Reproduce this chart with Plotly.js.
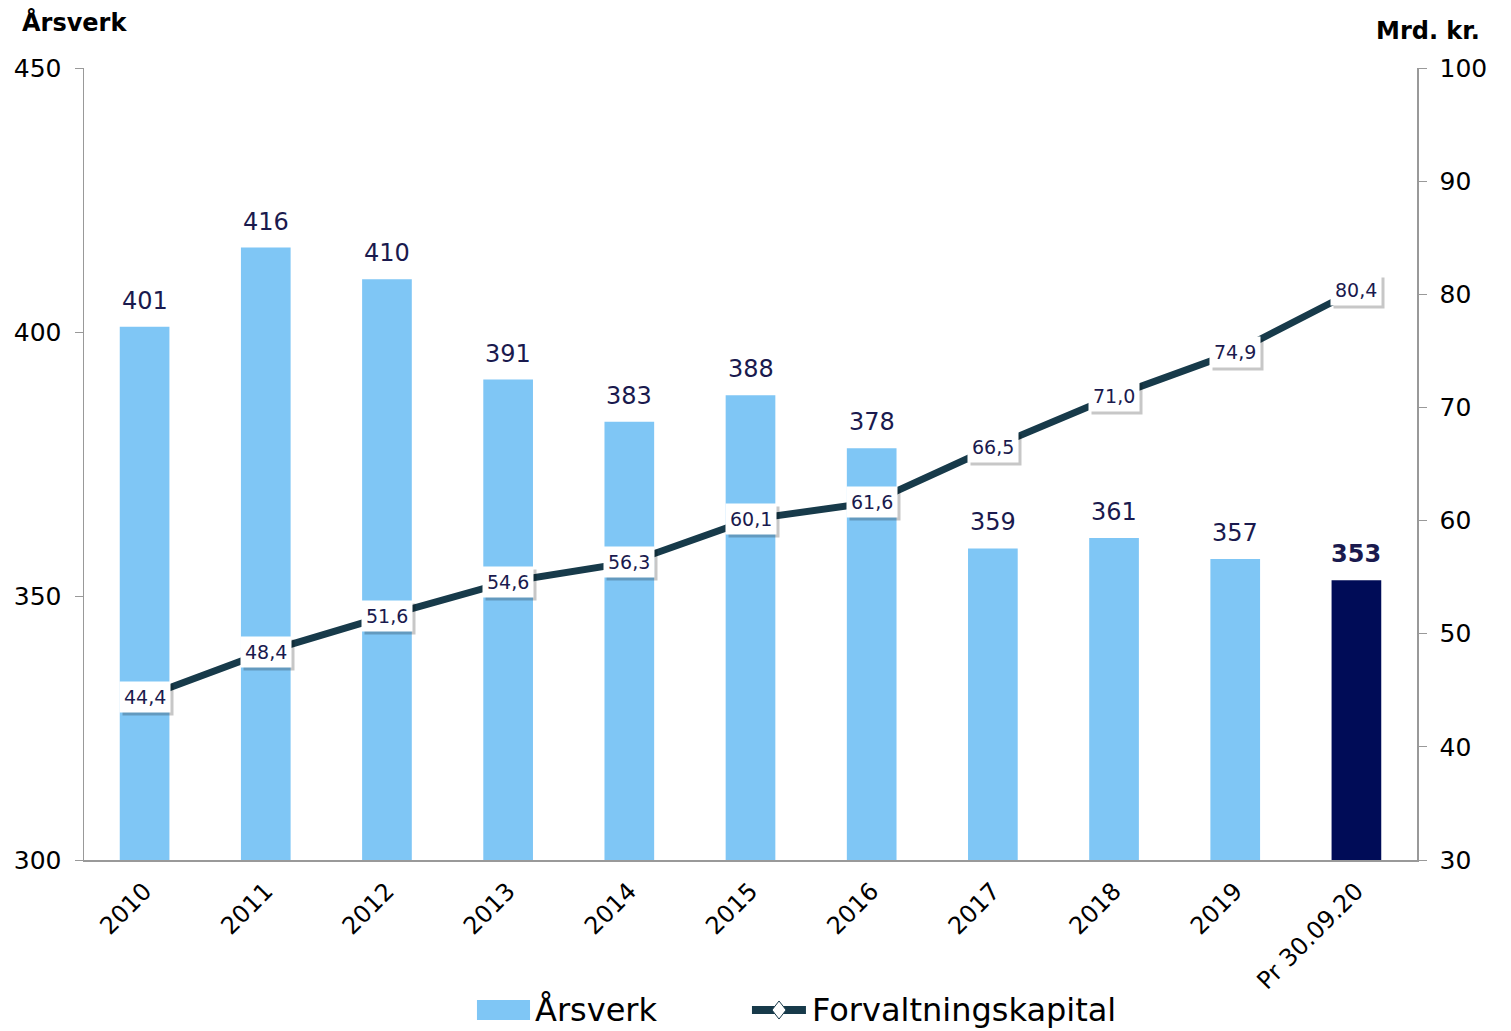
<!DOCTYPE html>
<html>
<head>
<meta charset="utf-8">
<script src="https://cdn.plot.ly/plotly-3.0.1.min.js"></script>
<style>html,body{margin:0;padding:0;background:#fff;}#chart{width:1511px;height:1031px;}</style>
</head>
<body>
<div id="chart"></div>
<script>
const categories = ["2010","2011","2012","2013","2014","2015","2016","2017","2018","2019","Pr 30.09.20"];
const arsverk = [401,416,410,391,383,388,378,359,361,357,353];
const forvaltningskapital = [44.4,48.4,51.6,54.6,56.3,60.1,61.6,66.5,71.0,74.9,80.4];
const barColors = ["#7fc6f5","#7fc6f5","#7fc6f5","#7fc6f5","#7fc6f5","#7fc6f5","#7fc6f5","#7fc6f5","#7fc6f5","#7fc6f5","#000c57"];
const legendNames = ["Årsverk", "Forvaltningskapital"];

const fmt = v => v.toFixed(1).replace('.', ',');
const barText = arsverk.map((v,i) => i === arsverk.length-1 ? '<b>'+v+'</b>' : String(v));

const font = "DejaVu Sans, Verdana, sans-serif";
const labelColor = "#1a1a4e";
const lineColor = "#173a4a";

const traces = [
  {
    type: 'bar', name: legendNames[0], x: categories, y: arsverk,
    marker: {color: barColors},
    width: 0.41,
    hoverinfo: 'skip'
  },
  {
    type: 'scatter', mode: 'lines', name: legendNames[1],
    x: categories, y: forvaltningskapital, yaxis: 'y2',
    line: {color: lineColor, width: 7},
    cliponaxis: false, hoverinfo: 'skip'
  }
];

const annotations = [];
arsverk.forEach((v,i) => {
  annotations.push({x: i, y: v, xref: 'x', yref: 'y', text: barText[i],
    showarrow: false, yanchor: 'bottom', yshift: 10,
    font: {family: font, size: 24, color: labelColor}});
});
forvaltningskapital.forEach((v,i) => {
  annotations.push({x: i, y: v, xref: 'x', yref: 'y2', text: fmt(v),
    showarrow: false, xshift: 3, yshift: -3, bgcolor: 'rgba(0,0,0,0.22)',
    font: {family: font, size: 19, color: 'rgba(0,0,0,0)'}, borderpad: 4});
});
forvaltningskapital.forEach((v,i) => {
  annotations.push({x: i, y: v, xref: 'x', yref: 'y2', text: fmt(v),
    showarrow: false, bgcolor: '#ffffff',
    font: {family: font, size: 19, color: labelColor}, borderpad: 4});
});
annotations.push({xref: 'paper', yref: 'paper', x: -0.048, y: 1.058, xanchor: 'left', yanchor: 'middle',
  text: '<b>Årsverk</b>', showarrow: false, font: {family: font, size: 24, color: '#000'}});
annotations.push({xref: 'paper', yref: 'paper', x: 1.0487, y: 1.0467, xanchor: 'right', yanchor: 'middle',
  text: '<b>Mrd. kr.</b>', showarrow: false, font: {family: font, size: 24, color: '#000'}});
// custom legend texts
annotations.push({xref: 'paper', yref: 'paper', x: 0.3368, y: -0.1894, xanchor: 'left', yanchor: 'middle',
  text: legendNames[0], showarrow: false, font: {family: font, size: 32, color: '#000'}});
annotations.push({xref: 'paper', yref: 'paper', x: 0.5446, y: -0.1894, xanchor: 'left', yanchor: 'middle',
  text: legendNames[1], showarrow: false, font: {family: font, size: 32, color: '#000'}});

const dmx = 0.5214, dmy = -0.1894, ddx = 0.0053, ddy = 0.0114;
const shapes = [
  {type: 'rect', xref: 'paper', yref: 'paper', x0: 0.2948, x1: 0.3346, y0: -0.202, y1: -0.1768,
    fillcolor: '#7fc6f5', line: {width: 0}},
  {type: 'line', xref: 'paper', yref: 'paper', x0: 0.5011, x1: 0.5416, y0: -0.1894, y1: -0.1894,
    line: {color: lineColor, width: 8}},
  {type: 'path', xref: 'paper', yref: 'paper',
    path: `M ${dmx-ddx} ${dmy} L ${dmx} ${dmy+ddy} L ${dmx+ddx} ${dmy} L ${dmx} ${dmy-ddy} Z`,
    fillcolor: '#ffffff', line: {color: lineColor, width: 1}}
];

const layout = {
  width: 1511, height: 1031,
  margin: {l: 84, r: 94, t: 68, b: 171},
  paper_bgcolor: '#fff', plot_bgcolor: '#fff',
  font: {family: font, size: 24, color: '#000'},
  showlegend: false,
  xaxis: {
    type: 'category', range: [-0.5, 10.5], tickangle: -45, showline: true, linecolor: '#999', linewidth: 1.5,
    ticks: '', showgrid: false, ticklabelstandoff: 6, tickfont: {family: font, size: 24, color: '#000'}
  },
  yaxis: {
    range: [300, 450], tickvals: [300,350,400,450], showline: true, linecolor: '#999', linewidth: 1.5,
    ticks: 'outside', ticklen: 8, tickcolor: '#999', showgrid: false, zeroline: false,
    ticklabelstandoff: 8, tickfont: {family: font, size: 25, color: '#000'}
  },
  yaxis2: {
    range: [30, 100], dtick: 10, overlaying: 'y', side: 'right', showline: true, linecolor: '#999', linewidth: 1.5,
    ticks: 'outside', ticklen: 8, tickcolor: '#999', showgrid: false, zeroline: false,
    ticklabelstandoff: 8, tickfont: {family: font, size: 25, color: '#000'}
  },
  annotations: annotations,
  shapes: shapes
};

Plotly.newPlot('chart', traces, layout, {displayModeBar: false, staticPlot: true});
</script>
</body>
</html>
